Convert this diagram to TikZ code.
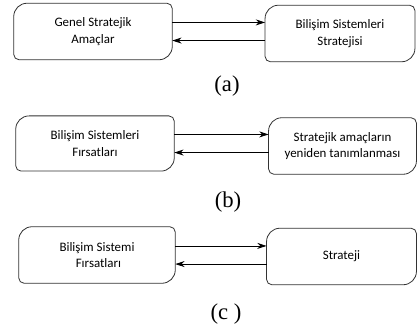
\documentclass[tikz,border=0pt]{standalone}
\usepackage{fontspec}
\setmainfont{Liberation Serif}
\newfontfamily\boxfont{Carlito}
\usetikzlibrary{arrows.meta,positioning}

\tikzset{
  stratbox/.style={inner sep=0pt, minimum height=42pt, align=center,
    font=\boxfont\fontsize{9.7}{12.5}\selectfont},
  outline/.style={draw=black!80, line width=0.6pt},
  flow/.style={draw=black, line width=0.6pt, -{Stealth[length=7pt,width=4.5pt]}},
  caption/.style={font=\fontsize{17}{19}\selectfont}
}

\begin{document}
\begin{tikzpicture}[x=0.75pt,y=-0.75pt]
  \useasboundingbox (0,0) rectangle (418,331);
  % (a)
  \node[stratbox, minimum width=118.5pt] (genel) at (93,31.5) {Genel Stratejik\\Amaçlar};
  \node[stratbox, minimum width=112pt] (bsstrat) at (340,33.5) {Bilişim Sistemleri\\Stratejisi};
  \node[caption] (capa) at (227,86) {(a)};
  % (b)
  \node[stratbox, minimum width=118.5pt, minimum height=41pt] (bsfirsat) at (95,143.5) {Bilişim Sistemleri\\Fırsatları};
  \node[stratbox, minimum width=110.5pt] (yeniden) at (342.5,146) {Stratejik amaçların\\yeniden tanımlanması};
  \node[caption] (capb) at (228,202) {(b)};
  % (c)
  \node[stratbox, minimum width=117pt] (bsfirsatc) at (97,255) {Bilişim Sistemi\\\ Fırsatları};
  \node[stratbox, minimum width=112pt] (strateji) at (341.5,256.5) {Strateji};
  \node[caption] (capc) at (226,314) {(c )};
  % box outlines
  \foreach \n in {genel,bsstrat,bsfirsat,yeniden,bsfirsatc,strateji}
    \draw[outline] ([yshift=-10pt]\n.north west) to[out=90,in=180] ([xshift=10pt]\n.north west)
      -- ([xshift=-4pt]\n.north east) to[out=0,in=90] ([yshift=-4pt]\n.north east)
      -- ([yshift=10pt]\n.south east) to[out=-90,in=0] ([xshift=-10pt]\n.south east)
      -- ([xshift=4pt]\n.south west) to[out=180,in=-90] ([yshift=4pt]\n.south west) -- cycle;
  % arrows
  \foreach \l/\r in {genel/bsstrat,bsfirsat/yeniden,bsfirsatc/strateji} {
    \draw[flow] ([yshift=6.8pt]\l.east) -- ([yshift=6.8pt]\l.east -| \r.west);
    \draw[flow] ([yshift=-6.8pt]\l.east -| \r.west) -- ([yshift=-6.8pt]\l.east);
  }
\end{tikzpicture}
\end{document}
